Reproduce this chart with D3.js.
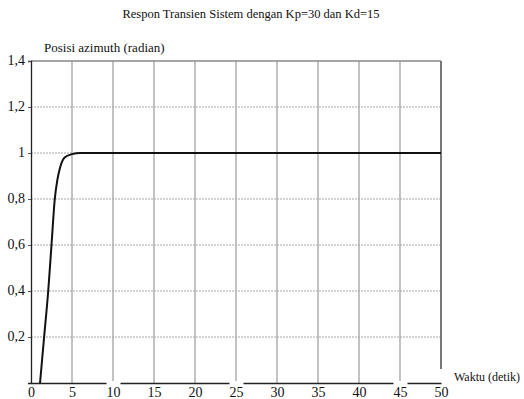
<!DOCTYPE html>
<html>
<head>
<meta charset="utf-8">
<script src="https://cdn.jsdelivr.net/npm/d3@7"></script>
<style>
  body { margin: 0; background: #fff; }
  svg text { font-family: "Liberation Serif", "Times New Roman", Times, "DejaVu Serif", serif !important; fill: #111; }
</style>
</head>
<body>
<div class="chart"></div>
<script>
// values
var waktu  = [1.1, 1.6, 2.1, 2.5, 2.9, 3.2, 3.5, 4.1, 5.0, 6.0, 50];
var posisi = [0.0, 0.2, 0.4, 0.6, 0.8, 0.88, 0.93, 0.98, 0.995, 1.0, 1.0];
var xTicks = [0, 5, 10, 15, 20, 25, 30, 35, 40, 45, 50];
var yTicks = [0.2, 0.4, 0.6, 0.8, 1, 1.2, 1.4];
var gapTicks = [10, 25, 45]; // labels whose white box cuts the axis line

var serif = '"Liberation Serif", "Times New Roman", serif';
var svgWidth = 524;
var svgHeight = 399;
var margin = { top: 61, right: 83, bottom: 16, left: 31 };
var width = svgWidth - margin.left - margin.right;
var height = svgHeight - margin.top - margin.bottom;

var svg = d3.select(".chart")
  .append("svg")
  .attr("width", svgWidth)
  .attr("height", svgHeight)
  .attr("font-family", serif);

var chartGroup = svg.append("g")
  .attr("transform", `translate(${margin.left}, ${margin.top})`);

var x = d3.scaleLinear().domain([0, 50]).range([0, width]);
var y = d3.scaleLinear().domain([0, 1.4]).range([height, 0]);

var fmt = d => String(d).replace(".", ",");

// grid
chartGroup.selectAll(".vgrid")
  .data(xTicks.slice(1, -1))
  .enter().append("line")
  .attr("x1", d => x(d)).attr("x2", d => x(d))
  .attr("y1", 0).attr("y2", height)
  .attr("stroke", "#9a9a9a")
  .attr("stroke-width", 1.2);

chartGroup.selectAll(".hgrid")
  .data(yTicks.slice(0, -1))
  .enter().append("line")
  .attr("x1", 0).attr("x2", width)
  .attr("y1", d => y(d)).attr("y2", d => y(d))
  .attr("stroke", "#a8a8a8")
  .attr("stroke-width", 1.2)
  .attr("stroke-dasharray", "2,1");

// top border
chartGroup.append("line")
  .attr("x1", 0).attr("x2", width)
  .attr("y1", 0).attr("y2", 0)
  .attr("stroke", "#888").attr("stroke-width", 1.5);

// right border
chartGroup.append("line")
  .attr("x1", width).attr("x2", width)
  .attr("y1", 0).attr("y2", height - 14)
  .attr("stroke", "#777").attr("stroke-width", 2);

// axes
var bottomAxis = d3.axisBottom(x).tickValues(xTicks).tickSize(0).tickPadding(4);
var leftAxis = d3.axisLeft(y).tickValues(yTicks).tickSize(3).tickPadding(3).tickFormat(fmt);

var gx = chartGroup.append("g")
  .attr("transform", `translate(0, ${height})`)
  .call(bottomAxis)
  .attr("font-family", serif);
gx.select(".domain").attr("stroke", "#222").attr("stroke-width", 1.3);
gx.selectAll(".tick")
  .filter(d => gapTicks.indexOf(d) >= 0)
  .insert("rect", "text")
  .attr("x", -7).attr("y", -2).attr("width", 14).attr("height", 16)
  .attr("fill", "#fff");
gx.selectAll("text").attr("font-size", 14).attr("fill", "#111");

var gy = chartGroup.append("g").call(leftAxis)
  .attr("font-family", serif);
gy.select(".domain").attr("stroke", "#222").attr("stroke-width", 1.3);
gy.selectAll(".tick line").attr("stroke", "#555");
gy.selectAll("text").attr("font-size", 14).attr("fill", "#111")
  .attr("dy", "0.25em");

// response curve
var pts = waktu.map((t, i) => [t, posisi[i]]);
var line = d3.line()
  .x(d => x(d[0]))
  .y(d => y(d[1]))
  .curve(d3.curveMonotoneX);

chartGroup.append("path")
  .datum(pts)
  .attr("d", line)
  .attr("fill", "none")
  .attr("stroke", "#111")
  .attr("stroke-width", 2);

// labels
svg.append("text")
  .attr("x", 251).attr("y", 18)
  .attr("text-anchor", "middle")
  .attr("font-size", 12.5)
  .text("Respon Transien Sistem dengan Kp=30 dan Kd=15");

svg.append("text")
  .attr("x", 44).attr("y", 52)
  .attr("font-size", 13)
  .text("Posisi azimuth (radian)");

svg.append("text")
  .attr("x", 454).attr("y", 381)
  .attr("font-size", 12)
  .text("Waktu (detik)");
</script>
</body>
</html>
